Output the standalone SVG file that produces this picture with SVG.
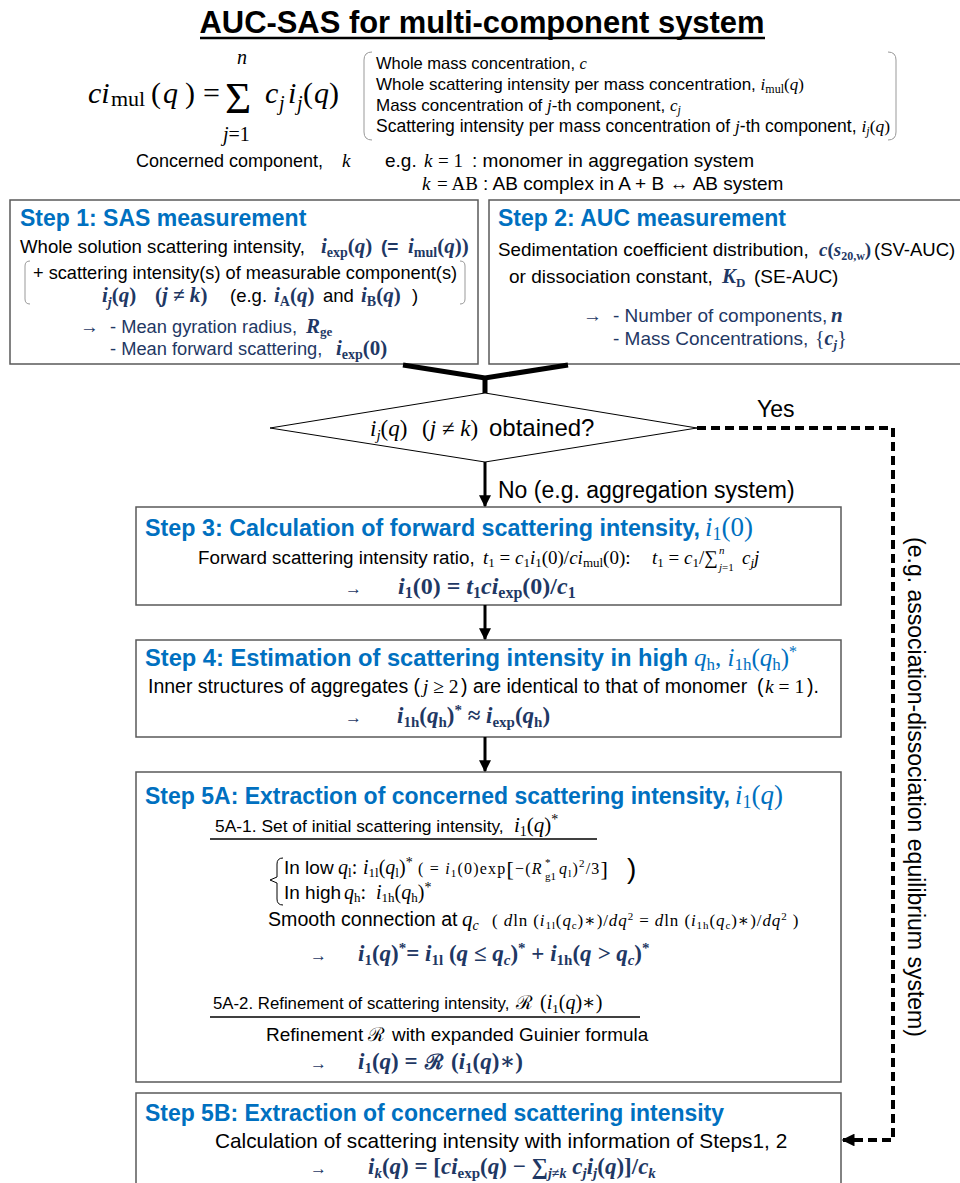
<svg xmlns="http://www.w3.org/2000/svg" width="960" height="1183" viewBox="0 0 960 1183">
<style>
.s{font-family:"Liberation Sans",Arial,sans-serif}
.m{font-family:"Liberation Serif","DejaVu Serif",serif;font-style:italic}
.mbn{font-family:"Liberation Serif","DejaVu Serif",serif;font-style:italic;font-weight:bold;fill:#1F3864}
.mbl{font-family:"Liberation Serif","DejaVu Serif",serif;font-style:italic;fill:#0070C0}
.u{font-style:normal}
.bd{font-weight:bold}
.nv{fill:#1F3864}
.hd{font-family:"Liberation Sans",Arial,sans-serif;font-weight:bold;fill:#0070C0;font-size:23px}
.box{fill:#fff;stroke:#595959;stroke-width:1.5}
.brk{fill:none;stroke:#999;stroke-width:1}
.con{fill:none;stroke:#000}
</style>
<defs>
<marker id="ah" viewBox="0 0 10 10" refX="9" refY="5" markerWidth="4" markerHeight="4" orient="auto" markerUnits="strokeWidth"><path d="M0,0 L10,5 L0,10 z" fill="#000"/></marker>
<marker id="ahd" viewBox="0 0 10 10" refX="9" refY="5" markerWidth="3.2" markerHeight="3.2" orient="auto" markerUnits="strokeWidth"><path d="M0,0 L10,5 L0,10 z" fill="#000"/></marker>
</defs>
<rect width="960" height="1183" fill="#fff"/>

<g id="title">
<text x="482" y="33" text-anchor="middle" class="s bd" font-size="31" textLength="565" lengthAdjust="spacingAndGlyphs">AUC-SAS for multi-component system</text>
<line x1="200" y1="38" x2="765" y2="38" stroke="#000" stroke-width="2.5"/>
</g>

<g id="formula">
<text x="88" y="103" class="m" font-size="30">ci</text>
<text x="111" y="106" class="m u" font-size="22">mul</text>
<text y="103" class="m" font-size="30"><tspan x="151" class="u">(</tspan><tspan x="163">q</tspan><tspan x="185" class="u">)</tspan><tspan x="203" class="u">=</tspan></text>
<text x="225" y="113" class="m u" font-size="45">Σ</text>
<text x="237" y="64" class="m" font-size="20">n</text>
<text x="223" y="141" class="m" font-size="20">j<tspan class="u">=1</tspan></text>
<text y="103" class="m" font-size="30"><tspan x="265">c</tspan><tspan x="288">i</tspan><tspan x="303" class="u">(</tspan><tspan x="314">q</tspan><tspan x="329" class="u">)</tspan></text>
<text y="110" class="m" font-size="20"><tspan x="279">j</tspan><tspan x="297">j</tspan></text>
</g>

<g id="legend">
<path class="brk" d="M372,52 Q364,52 364,60 L364,132 Q364,140 372,140"/>
<path class="brk" d="M888,52 Q896,52 896,60 L896,132 Q896,140 888,140"/>
<text x="376" y="69" class="s" font-size="16.5">Whole mass concentration, <tspan class="m">c</tspan></text>
<text x="376" y="90" class="s" font-size="17">Whole scattering intensity per mass concentration, <tspan class="m">i</tspan><tspan class="m u" font-size="12" dy="3">mul</tspan><tspan class="m u" dy="-3">(</tspan><tspan class="m">q</tspan><tspan class="m u">)</tspan></text>
<text x="376" y="111" class="s" font-size="17">Mass concentration of <tspan class="m">j</tspan>-th component, <tspan class="m">c</tspan><tspan class="m" font-size="12" dy="3">j</tspan></text>
<text x="376" y="132" class="s" font-size="17.5">Scattering intensity per mass concentration of <tspan class="m">j</tspan>-th component, <tspan class="m">i</tspan><tspan class="m" font-size="12" dy="3">j</tspan><tspan class="m u" dy="-3">(</tspan><tspan class="m">q</tspan><tspan class="m u">)</tspan></text>
</g>

<g id="concerned">
<text x="136" y="167" class="s" font-size="18">Concerned component,</text>
<text x="342" y="167" class="m" font-size="19">k</text>
<text x="385" y="167" class="s" font-size="19">e.g.</text>
<text x="424" y="167" class="m" font-size="19">k</text>
<text x="438" y="167" class="m u" font-size="19">= 1</text>
<text x="472" y="167" class="s" font-size="19">: monomer in aggregation system</text>
<text x="422" y="190" class="m" font-size="19">k</text>
<text x="437" y="190" class="m u" font-size="19">= AB</text>
<text x="483" y="190" class="s" font-size="19">: AB complex in A + B ↔ AB system</text>
</g>

<g id="step1">
<rect class="box" x="10" y="200" width="468" height="164" stroke="#7f7f7f"/>
<text x="20" y="226" class="hd">Step 1: SAS measurement</text>
<text x="20" y="253" class="s" font-size="18.6">Whole solution scattering intensity,</text>
<text x="321" y="253" class="mbn" font-size="21">i<tspan class="u" font-size="14" dy="4">exp</tspan><tspan class="u" dy="-4">(</tspan>q<tspan class="u">)</tspan></text>
<text x="381" y="253" class="s bd nv" font-size="19">(=</text>
<text x="408" y="253" class="mbn" font-size="21">i<tspan class="u" font-size="14" dy="4">mul</tspan><tspan class="u" dy="-4">(</tspan>q<tspan class="u">))</tspan></text>
<path class="brk" d="M30,261 Q25,261 25,266 L25,299 Q25,304 30,304"/>
<path class="brk" d="M460,261 Q465,261 465,266 L465,299 Q465,304 460,304"/>
<text x="33" y="279" class="s" font-size="18.2">+ scattering intensity(s) of measurable component(s)</text>
<text x="102" y="302" class="mbn" font-size="21">i<tspan font-size="14" dy="5">j</tspan><tspan class="u" dy="-5">(</tspan>q<tspan class="u">)</tspan></text>
<text x="155" y="302" class="mbn" font-size="21"><tspan class="u">(</tspan>j ≠ k<tspan class="u">)</tspan></text>
<text x="230" y="302" class="s" font-size="18.5">(e.g.</text>
<text x="274" y="302" class="mbn" font-size="21">i<tspan class="u" font-size="14" dy="4">A</tspan><tspan class="u" dy="-4">(</tspan>q<tspan class="u">)</tspan></text>
<text x="323" y="302" class="s" font-size="18.5">and</text>
<text x="361" y="302" class="mbn" font-size="21">i<tspan class="u" font-size="14" dy="4">B</tspan><tspan class="u" dy="-4">(</tspan>q<tspan class="u">)</tspan></text>
<text x="412" y="302" class="s" font-size="18.5">)</text>
<text x="80" y="333" class="s nv" font-size="18.5">→</text>
<text x="110" y="333" class="s nv" font-size="18.3">- Mean gyration radius,</text>
<text x="306" y="333" class="mbn" font-size="21">R<tspan class="u" font-size="13" dy="3">ge</tspan></text>
<text x="110" y="355" class="s nv" font-size="18.3">- Mean forward scattering,</text>
<text x="336" y="355" class="mbn" font-size="21">i<tspan class="u" font-size="14" dy="4">exp</tspan><tspan class="u" dy="-4">(0)</tspan></text>
</g>

<g id="step2">
<rect class="box" x="489" y="200" width="480" height="164" stroke="#404040"/>
<text x="498" y="226" class="hd">Step 2: AUC measurement</text>
<text x="498" y="256" class="s" font-size="18.8">Sedimentation coefficient distribution,</text>
<text x="819" y="256" class="mbn" font-size="19">c<tspan class="u">(</tspan>s<tspan class="u" font-size="12" dy="4">20,w</tspan><tspan class="u" dy="-4">)</tspan></text>
<text x="874" y="256" class="s" font-size="18.5">(SV-AUC)</text>
<text x="509" y="283" class="s" font-size="19">or  dissociation constant,</text>
<text x="722" y="283" class="mbn" font-size="21">K<tspan class="u" font-size="13" dy="4">D</tspan></text>
<text x="754" y="283" class="s" font-size="19">(SE-AUC)</text>
<text x="583" y="322" class="s nv" font-size="19">→</text>
<text x="613" y="322" class="s nv" font-size="19">- Number of components,</text>
<text x="831" y="322" class="mbn" font-size="21">n</text>
<text x="613" y="345" class="s nv" font-size="19">- Mass Concentrations,</text>
<text x="815" y="345" class="mbn" font-size="20"><tspan class="u" font-weight="normal">{</tspan>c<tspan font-size="13" dy="4">j</tspan><tspan class="u" font-weight="normal" dy="-4">}</tspan></text>
</g>

<g id="decision">
<polygon points="485,393 697,428 485,462 270,428" fill="#fff" stroke="#000" stroke-width="1"/>
<text x="370" y="436" class="m" font-size="23">i<tspan font-size="15" dy="4">j</tspan><tspan class="u" dy="-4">(</tspan>q<tspan class="u">)</tspan></text>
<text x="422" y="436" class="m" font-size="23"><tspan class="u">(</tspan>j ≠ k<tspan class="u">)</tspan></text>
<text x="489" y="436" class="s" font-size="24">obtained?</text>
</g>

<g id="step3">
<rect class="box" x="136" y="507" width="705" height="98"/>
<text x="145" y="536" class="hd" textLength="555" lengthAdjust="spacingAndGlyphs">Step 3: Calculation of forward scattering intensity,</text>
<text x="705" y="536" class="mbl" font-size="27">i<tspan class="u" font-size="18" dy="4">1</tspan><tspan class="u" dy="-4">(0)</tspan></text>
<text x="198" y="564" class="s" font-size="18.8">Forward scattering intensity ratio,</text>
<text x="483" y="564" class="m" font-size="19">t<tspan class="u" font-size="13" dy="3">1</tspan><tspan class="u" dy="-3"> = </tspan>c<tspan class="u" font-size="13" dy="3">1</tspan><tspan dy="-3">i</tspan><tspan class="u" font-size="13" dy="3">1</tspan><tspan class="u" dy="-3">(0)/</tspan>ci<tspan class="u" font-size="13" dy="3">mul</tspan><tspan class="u" dy="-3">(0):</tspan></text>
<text x="652" y="564" class="m" font-size="19">t<tspan class="u" font-size="13" dy="3">1</tspan><tspan class="u" dy="-3"> = </tspan>c<tspan class="u" font-size="13" dy="3">1</tspan><tspan class="u" dy="-3">/∑</tspan></text>
<text x="719" y="554" class="m" font-size="11">n</text>
<text x="719" y="571" class="m" font-size="11">j<tspan class="u">=1</tspan></text>
<text x="742" y="564" class="m" font-size="19">c<tspan font-size="13" dy="3">j</tspan><tspan dy="-3">j</tspan></text>
<text x="345" y="594" class="s nv" font-size="17">→</text>
<text x="398" y="594" class="mbn" font-size="24">i<tspan class="u" font-size="16" dy="4">1</tspan><tspan class="u" dy="-4">(0) = </tspan>t<tspan class="u" font-size="16" dy="4">1</tspan><tspan dy="-4">ci</tspan><tspan class="u" font-size="16" dy="4">exp</tspan><tspan class="u" dy="-4">(0)/</tspan>c<tspan class="u" font-size="16" dy="4">1</tspan></text>
</g>

<g id="step4">
<rect class="box" x="136" y="640" width="705" height="97"/>
<text x="145" y="666" class="hd" textLength="543" lengthAdjust="spacingAndGlyphs">Step 4: Estimation of scattering intensity in high</text>
<text x="694" y="666" class="mbl" font-size="25">q<tspan class="u" font-size="17" dy="4">h</tspan><tspan class="u" dy="-4">, </tspan>i<tspan class="u" font-size="17" dy="4">1h</tspan><tspan class="u" dy="-4">(</tspan>q<tspan class="u" font-size="17" dy="4">h</tspan><tspan class="u" dy="-4">)</tspan><tspan class="u" font-size="16" dy="-9">*</tspan></text>
<text x="148" y="693" class="s" font-size="19.5">Inner structures of aggregates (</text>
<text x="423" y="693" class="m" font-size="19.5">j<tspan class="u"> ≥ 2</tspan></text>
<text x="461" y="693" class="s" font-size="19.5">) are identical to that of monomer</text>
<text x="757" y="693" class="s" font-size="19.5">(</text>
<text x="765" y="693" class="m" font-size="19.5">k<tspan class="u"> = 1</tspan></text>
<text x="807" y="693" class="s" font-size="19.5">).</text>
<text x="345" y="723" class="s nv" font-size="17">→</text>
<text x="397" y="723" class="mbn" font-size="23">i<tspan class="u" font-size="15" dy="4">1h</tspan><tspan class="u" dy="-4">(</tspan>q<tspan class="u" font-size="15" dy="4">h</tspan><tspan class="u" dy="-4">)</tspan><tspan class="u" font-size="15" dy="-8">*</tspan><tspan class="u" dy="8"> ≈ </tspan>i<tspan class="u" font-size="15" dy="4">exp</tspan><tspan class="u" dy="-4">(</tspan>q<tspan class="u" font-size="15" dy="4">h</tspan><tspan class="u" dy="-4">)</tspan></text>
</g>

<g id="step5a">
<rect class="box" x="136" y="772" width="705" height="310" stroke="#7f7f7f" stroke-width="2"/>
<text x="145" y="804" class="hd" textLength="585" lengthAdjust="spacingAndGlyphs">Step 5A: Extraction of concerned scattering intensity,</text>
<text x="735" y="804" class="mbl" font-size="27">i<tspan class="u" font-size="18" dy="4">1</tspan><tspan class="u" dy="-4">(</tspan>q<tspan class="u">)</tspan></text>
<text x="215" y="832" class="s" font-size="17.4">5A-1. Set of initial scattering intensity,</text>
<text x="514" y="832" class="m" font-size="21">i<tspan class="u" font-size="14" dy="4">1</tspan><tspan class="u" dy="-4">(</tspan>q<tspan class="u">)</tspan><tspan class="u" font-size="14" dy="-8">*</tspan></text>
<line x1="210" y1="839" x2="597" y2="839" stroke="#000" stroke-width="1.3"/>
<path class="con" stroke-width="1" d="M283,858 Q277,858 277,864 L277,877 L270,880 L277,883 L277,899 Q277,905 283,905"/>
<text x="284" y="874" class="s" font-size="19">In low</text>
<text x="338" y="874" class="m" font-size="20">q<tspan class="u" font-size="13" dy="3">l</tspan><tspan class="u" dy="-3">:</tspan></text>
<text x="363" y="874" class="m" font-size="20">i<tspan class="u" font-size="13" dy="3">1l</tspan><tspan class="u" dy="-3">(</tspan>q<tspan class="u" font-size="13" dy="3">l</tspan><tspan class="u" dy="-3">)</tspan><tspan class="u" font-size="14" dy="-7">*</tspan></text>
<text x="418" y="874" class="m" font-size="16" letter-spacing="1.2"><tspan class="u">( = </tspan>i<tspan class="u" font-size="11" dy="3">1</tspan><tspan class="u" dy="-3">(0)exp</tspan><tspan class="u" font-size="22" dy="2">[</tspan><tspan class="u" dy="-2">−(</tspan>R</text>
<text x="545" y="866" class="m u" font-size="11">*</text>
<text x="545" y="880" class="m u" font-size="11">g1</text>
<text x="559" y="874" class="m" font-size="16" letter-spacing="1.2">q<tspan class="u" font-size="11" dy="3">l</tspan><tspan class="u" dy="-3">)</tspan><tspan class="u" font-size="11" dy="-7">2</tspan><tspan class="u" dy="7">/3</tspan><tspan class="u" font-size="22" dy="2">]</tspan></text>
<text x="627" y="878" class="s" font-size="28">)</text>
<text x="284" y="899" class="s" font-size="19">In high</text>
<text x="344" y="899" class="m" font-size="20">q<tspan class="u" font-size="13" dy="3">h</tspan><tspan class="u" dy="-3">:</tspan></text>
<text x="376" y="899" class="m" font-size="20">i<tspan class="u" font-size="13" dy="3">1h</tspan><tspan class="u" dy="-3">(</tspan>q<tspan class="u" font-size="13" dy="3">h</tspan><tspan class="u" dy="-3">)</tspan><tspan class="u" font-size="14" dy="-7">*</tspan></text>
<text x="268" y="926" class="s" font-size="19.6">Smooth connection at</text>
<text x="462" y="926" class="m" font-size="21">q<tspan font-size="14" dy="4">c</tspan></text>
<text x="492" y="926" class="m" font-size="17" letter-spacing="0.9"><tspan class="u">( </tspan>d<tspan class="u">ln (</tspan>i<tspan class="u" font-size="11" dy="3">1l</tspan><tspan class="u" dy="-3">(</tspan>q<tspan class="u" font-size="11" dy="3">c</tspan><tspan class="u" dy="-3">)∗)/</tspan>dq<tspan class="u" font-size="11" dy="-6">2</tspan><tspan class="u" dy="6"> = </tspan>d<tspan class="u">ln (</tspan>i<tspan class="u" font-size="11" dy="3">1h</tspan><tspan class="u" dy="-3">(</tspan>q<tspan class="u" font-size="11" dy="3">c</tspan><tspan class="u" dy="-3">)∗)/</tspan>dq<tspan class="u" font-size="11" dy="-6">2</tspan><tspan class="u" dy="6"> )</tspan></text>
<text x="310" y="961" class="s nv" font-size="17">→</text>
<text x="358" y="961" class="mbn" font-size="23">i<tspan class="u" font-size="15" dy="4">1</tspan><tspan class="u" dy="-4">(</tspan>q<tspan class="u">)</tspan><tspan class="u" font-size="15" dy="-8">*</tspan><tspan class="u" dy="8">= </tspan>i<tspan class="u" font-size="15" dy="4">1l</tspan><tspan class="u" dy="-4"> (</tspan>q ≤ q<tspan font-size="15" dy="4">c</tspan><tspan class="u" dy="-4">)</tspan><tspan class="u" font-size="15" dy="-8">*</tspan><tspan class="u" dy="8"> + </tspan>i<tspan class="u" font-size="15" dy="4">1h</tspan><tspan class="u" dy="-4">(</tspan>q &gt; q<tspan font-size="15" dy="4">c</tspan><tspan class="u" dy="-4">)</tspan><tspan class="u" font-size="15" dy="-8">*</tspan></text>
<text x="213" y="1009" class="s" font-size="16.8">5A-2. Refinement of scattering intensity,</text>
<text x="516" y="1009" class="m u" font-size="19">ℛ</text>
<text x="540" y="1009" class="m" font-size="20"><tspan class="u">(</tspan>i<tspan class="u" font-size="13" dy="4">1</tspan><tspan class="u" dy="-4">(</tspan>q<tspan class="u">)∗)</tspan></text>
<line x1="210" y1="1017" x2="640" y2="1017" stroke="#000" stroke-width="1.3"/>
<text x="266" y="1041" class="s" font-size="19">Refinement</text>
<text x="368" y="1041" class="m u" font-size="19">ℛ</text>
<text x="392" y="1041" class="s" font-size="18.9">with expanded Guinier formula</text>
<text x="310" y="1069" class="s nv" font-size="17">→</text>
<text x="358" y="1069" class="mbn" font-size="23">i<tspan class="u" font-size="15" dy="4">1</tspan><tspan class="u" dy="-4">(</tspan>q<tspan class="u">) =</tspan></text>
<text x="425" y="1069" class="mbn u" font-size="21">ℛ</text>
<text x="451" y="1069" class="mbn" font-size="23"><tspan class="u">(</tspan>i<tspan class="u" font-size="15" dy="4">1</tspan><tspan class="u" dy="-4">(</tspan>q<tspan class="u">)∗)</tspan></text>
</g>

<g id="step5b">
<rect class="box" x="136" y="1093" width="705" height="100" stroke="#404040"/>
<text x="145" y="1121" class="hd" textLength="579" lengthAdjust="spacingAndGlyphs">Step 5B: Extraction of concerned scattering intensity</text>
<text x="215" y="1148" class="s" font-size="20.8">Calculation of scattering intensity with information of Steps1, 2</text>
<text x="310" y="1174" class="s nv" font-size="17">→</text>
<text x="368" y="1174" class="mbn" font-size="23">i<tspan font-size="15" dy="4">k</tspan><tspan class="u" dy="-4">(</tspan>q<tspan class="u">) = [</tspan>ci<tspan class="u" font-size="15" dy="4">exp</tspan><tspan class="u" dy="-4">(</tspan>q<tspan class="u">) − ∑</tspan><tspan font-size="14" dy="4">j≠k</tspan><tspan dy="-4"> c</tspan><tspan font-size="15" dy="4">j</tspan><tspan dy="-4">i</tspan><tspan font-size="15" dy="4">j</tspan><tspan class="u" dy="-4">(</tspan>q<tspan class="u">)]/</tspan>c<tspan font-size="15" dy="4">k</tspan></text>
</g>

<g id="connectors">
<polyline class="con" stroke-width="5" points="403,365 485,378 568,365"/>
<line class="con" stroke-width="5" x1="485" y1="377" x2="485" y2="393"/>
<line class="con" stroke-width="3" x1="485" y1="462" x2="485" y2="506" marker-end="url(#ah)"/>
<line class="con" stroke-width="3" x1="485" y1="605" x2="485" y2="639" marker-end="url(#ah)"/>
<line class="con" stroke-width="3" x1="485" y1="737" x2="485" y2="771" marker-end="url(#ah)"/>
<path class="con" stroke-width="4" stroke-dasharray="9,5" d="M697,428 H893 V1140 H843" marker-end="url(#ahd)"/>
<text x="757" y="417" class="s" font-size="23">Yes</text>
<text x="498" y="498" class="s" font-size="23">No  (e.g. aggregation system)</text>
<text transform="translate(908,787) rotate(90)" text-anchor="middle" class="s" font-size="23">(e.g. association-dissociation equilibrium system)</text>
</g>
</svg>
